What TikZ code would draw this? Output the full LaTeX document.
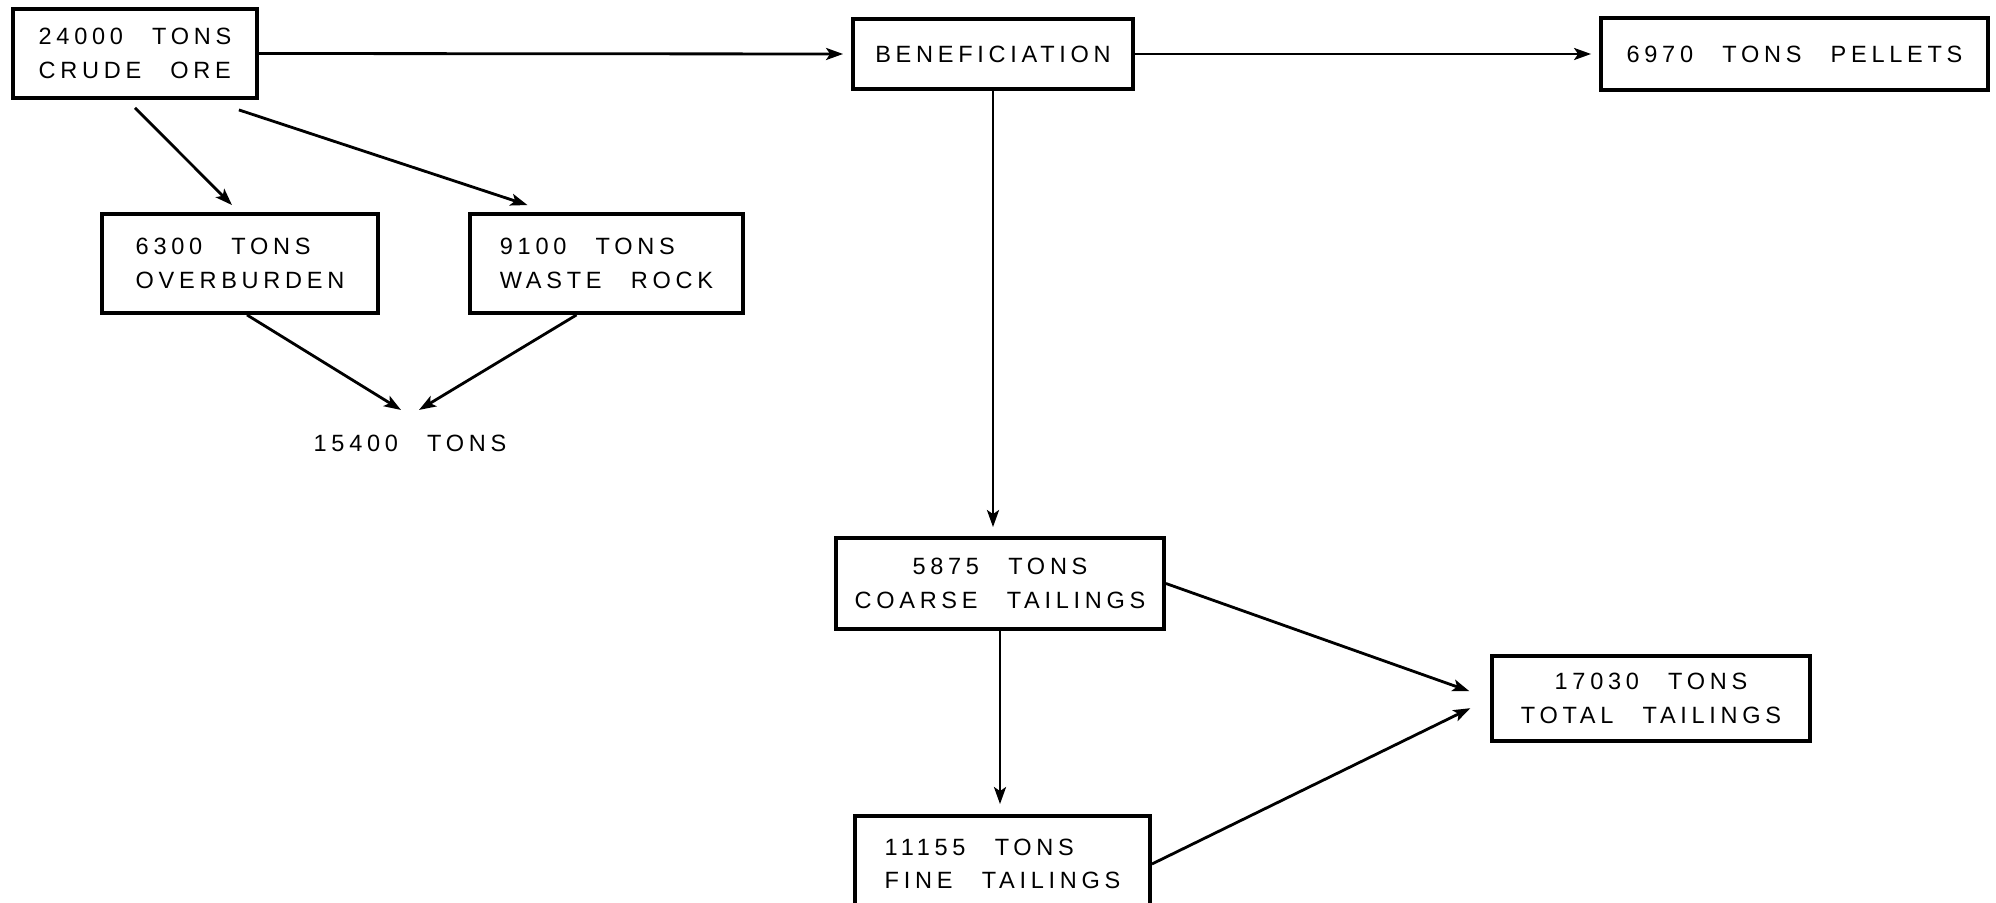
\documentclass[tikz,border=0pt]{standalone}
\usepackage{fontspec}
\usepackage{tikz}
\usetikzlibrary{arrows.meta}
\newfontfamily\stencil[LetterSpace=20,WordSpace=2.6]{Liberation Sans}

\begin{document}
\begin{tikzpicture}[x=0.1mm,y=-0.1mm,
    tonbox/.style={draw,line width=1.1pt,inner sep=0pt,font=\stencil\fontsize{6.7pt}{9.6pt}\selectfont},
    flow/.style={line width=0.8pt,-{Stealth[length=1.7mm,width=1.2mm,inset=0.4mm]}}]
    \clip (0,0) rectangle (1996,903);
    \node[tonbox,align=left,minimum width=24.4mm,minimum height=8.9mm] (crude) at (135,53.5) {24000 TONS\\CRUDE ORE};
    \node[tonbox,minimum width=28mm,minimum height=7mm] (benef) at (993,54) {BENEFICIATION};
    \node[tonbox,minimum width=38.7mm,minimum height=7.2mm] (pellets) at (1794.5,54) {6970 TONS PELLETS};
    \node[tonbox,align=left,minimum width=27.6mm,minimum height=9.9mm] (over) at (240,263.5) {6300 TONS\\OVERBURDEN};
    \node[tonbox,align=left,minimum width=27.3mm,minimum height=9.9mm] (waste) at (606.5,263.5) {9100 TONS\\WASTE ROCK};
    \node[font=\stencil\fontsize{6.7pt}{9.6pt}\selectfont,inner xsep=0pt,inner ysep=2.4mm] (rock) at (410,443) {15400 TONS};
    \node[tonbox,align=center,minimum width=32.8mm,minimum height=9.1mm] (coarse) at (1000,583.5) {5875 TONS\\COARSE TAILINGS};
    \node[tonbox,align=center,minimum width=31.8mm,minimum height=8.5mm] (total) at (1651,698.5) {17030 TONS\\TOTAL TAILINGS};
    \node[tonbox,align=left,minimum width=29.5mm,minimum height=9.6mm] (fine) at (1002.5,864) {11155 TONS\\FINE TAILINGS};
    \draw[flow,shorten >=0.8mm] (crude.east) -- (benef.west);
    \draw[flow,shorten >=0.8mm] (benef.east) -- (pellets.west);
    \draw[flow] ([yshift=-0.8mm]crude.south) -- ([xshift=-0.8mm,yshift=0.7mm]over.north);
    \draw[flow] ([xshift=-2mm,yshift=-1mm]crude.south east) -- ([xshift=-7.9mm,yshift=0.7mm]waste.north);
    \draw[flow] ([xshift=0.7mm]over.south) -- ([xshift=-0.9mm]rock.north);
    \draw[flow] ([xshift=-3mm]waste.south) -- ([xshift=0.9mm]rock.north);
    \draw[flow,shorten >=0.9mm] (benef.south) -- (benef.south |- coarse.north);
    \draw[flow,shorten >=1mm] (coarse.south) -- (coarse.south |- fine.north);
    \draw[flow,shorten >=2.2mm] (coarse.east) -- (total.west);
    \draw[flow,shorten >=2.2mm] (fine.east) -- (total.west);
\end{tikzpicture}
\end{document}
